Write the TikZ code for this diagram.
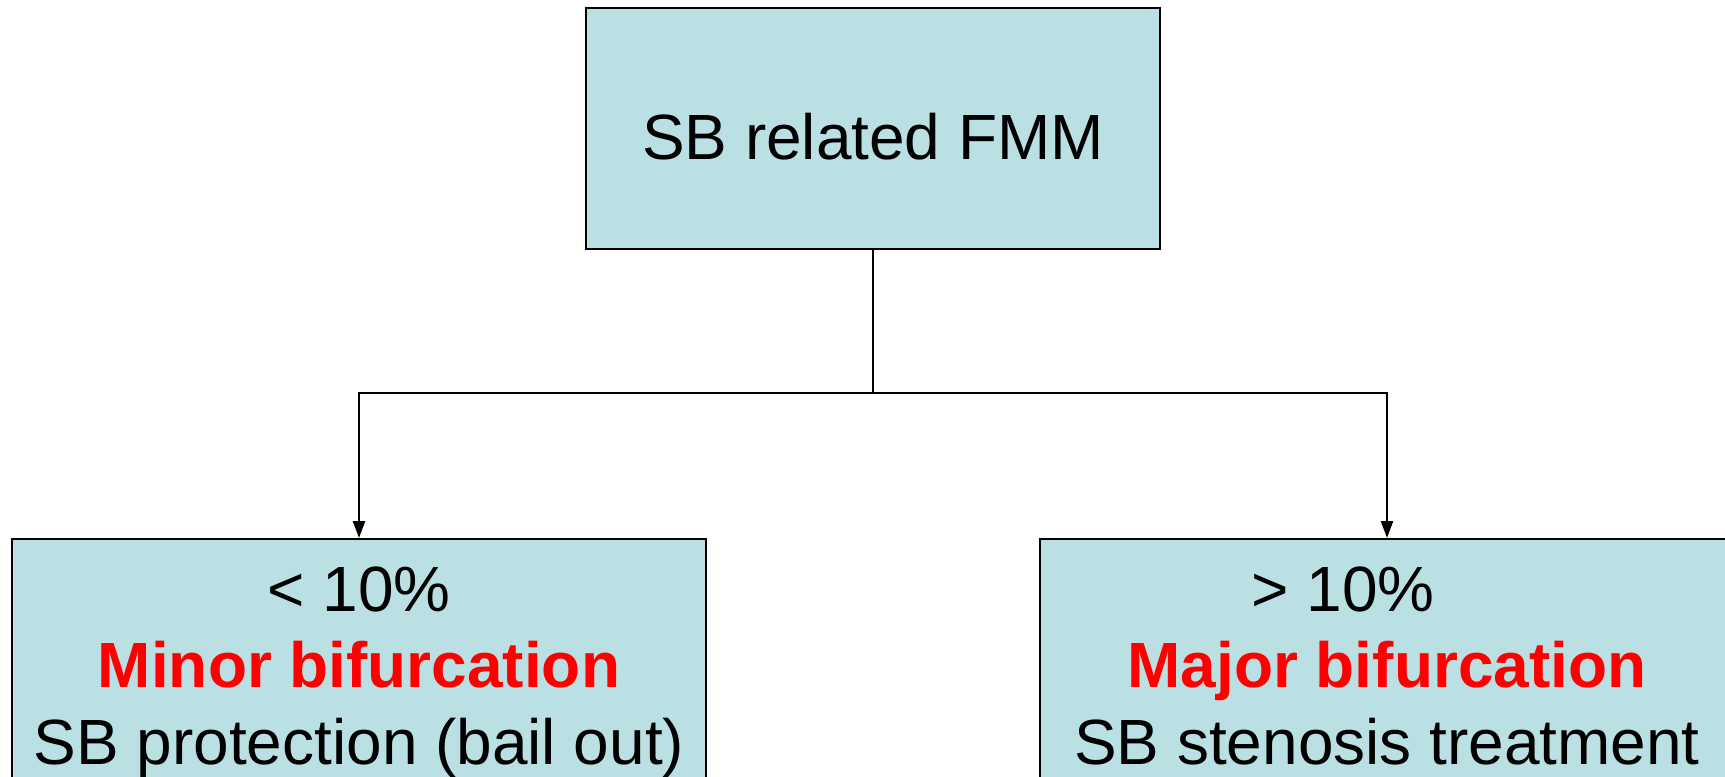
\documentclass[tikz,border=0pt]{standalone}
\usepackage{fontspec}
\setmainfont{Liberation Sans}
\usetikzlibrary{arrows.meta, positioning}
\definecolor{cteal}{HTML}{BBE0E3}
\definecolor{cred}{HTML}{FF0000}
\tikzset{
  every picture/.style={line width=1.4pt},
  box/.style={draw=black, fill=cteal, align=center, inner sep=0pt, font=\fontsize{36.4pt}{43.3pt}\selectfont},
  branch/.style={box, anchor=north, minimum width=13.88cm, inner ysep=0.56cm},
  arrow/.style={-{Triangle[length=0.34cm, width=0.24cm]}, draw=black},
  hot/.style={text=cred, font=\bfseries},
}

\begin{document}
\begin{tikzpicture}[x=0.02cm, y=-0.02cm]
  \path[use as bounding box, clip] (0,0) rectangle (1725,777);
  \node[box, minimum width=11.48cm, minimum height=4.82cm, text height=1.24cm] (fmm) at (873,128.5) {SB related FMM};
  \node[branch] (minor) at (359,538) {< 10\%\\ \textcolor{cred}{\bfseries Minor bifurcation}\\ SB protection (bail out)};
  \node[branch] (major) at (1387,538) {> 10\%\hspace*{1.76cm}\\ \textcolor{cred}{\bfseries Major bifurcation}\\ SB stenosis treatment};
  \coordinate (split) at (873,393);
  \draw (fmm.south) -- (split);
  \draw[arrow] (split) -| (minor.north);
  \draw[arrow] (split) -| (major.north);
\end{tikzpicture}
\end{document}
